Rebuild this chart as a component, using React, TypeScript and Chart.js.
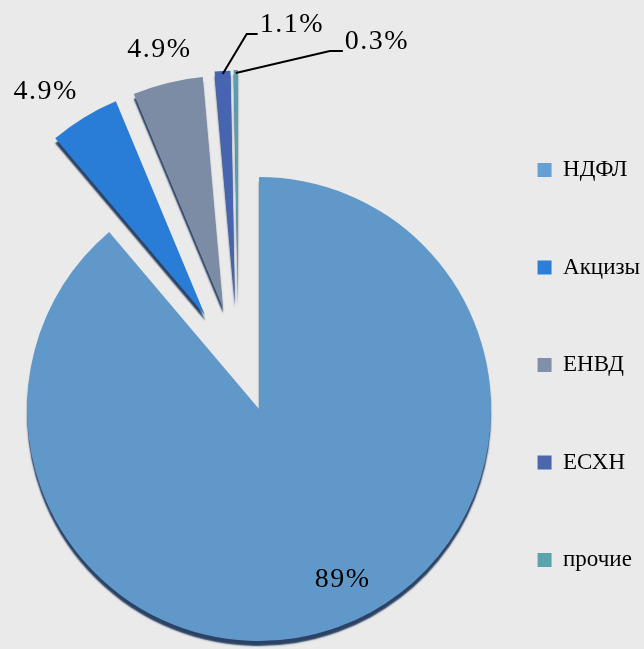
import { useEffect, useRef } from 'react';
import { Chart, registerables } from 'chart.js';

Chart.register(...registerables);

const categories = ['НДФЛ', 'Акцизы', 'ЕНВД', 'ЕСХН', 'прочие'];
const shares = [89, 4.9, 4.9, 1.1, 0.3];
const percentLabels = ['89%', '4.9%', '4.9%', '1.1%', '0.3%'];

const sliceColors = ['#6099c9', '#2a7dd7', '#7d8ca5', '#4664af', '#5aa0aa'];
const legendColors = ['#65a0d4', '#2c7fd9', '#8090ab', '#4a66ac', '#5ba3ae'];

const LABEL_FONT = '28px "Liberation Serif", "Times New Roman", serif';

const explodePlugin = {
  id: 'explode',
  afterDatasetUpdate(chart: any, args: any, opts: any) {
    const arcs = args.meta.data;
    arcs.forEach((arc: any, i: number) => {
      const d = opts.distance[i] || 0;
      if (!d) return;
      const a = (arc.startAngle + arc.endAngle) / 2 + ((opts.turn[i] || 0) * Math.PI) / 180;
      arc.x += Math.cos(a) * d;
      arc.y += Math.sin(a) * d;
    });
  },
};

const depthPlugin = {
  id: 'depth',
  beforeDatasetDraw(chart: any, _args: any, opts: any) {
    const ctx = chart.ctx;
    ctx.save();
    ctx.shadowColor = opts.color;
    ctx.shadowOffsetX = opts.dx;
    ctx.shadowOffsetY = opts.dy;
    ctx.shadowBlur = opts.blur;
  },
  afterDatasetDraw(chart: any) {
    chart.ctx.restore();
  },
};

const sliceLabelPlugin = {
  id: 'sliceLabels',
  afterDatasetsDraw(chart: any, _args: any, opts: any) {
    const ctx = chart.ctx;
    const meta = chart.getDatasetMeta(0);
    ctx.save();
    ctx.font = LABEL_FONT;
    try {
      (ctx as any).letterSpacing = '1.5px';
    } catch (e) {}
    ctx.fillStyle = '#000';
    ctx.strokeStyle = '#000';
    ctx.lineWidth = 2;
    meta.data.forEach((arc: any, i: number) => {
      const spec = opts.place[i];
      const mid = (arc.startAngle + arc.endAngle) / 2;
      const text = percentLabels[i];
      if (spec.leader) {
        const r = arc.outerRadius - spec.inset;
        const sx = arc.x + Math.cos(mid) * r;
        const sy = arc.y + Math.sin(mid) * r;
        const ex = sx + spec.elbow[0];
        const ey = sy + spec.elbow[1];
        ctx.beginPath();
        ctx.moveTo(sx, sy);
        ctx.lineTo(ex, ey);
        ctx.lineTo(ex + spec.tail, ey);
        ctx.stroke();
        ctx.textAlign = 'left';
        ctx.textBaseline = 'middle';
        ctx.fillText(text, ex + spec.tail + 2, ey - 9);
      } else {
        const a = mid + (spec.turn * Math.PI) / 180;
        const px = arc.x + Math.cos(a) * spec.dist;
        const py = arc.y + Math.sin(a) * spec.dist;
        ctx.textAlign = 'center';
        ctx.textBaseline = 'middle';
        ctx.fillText(text, px, py);
      }
    });
    ctx.restore();
  },
};

export default function App() {
  const ref = useRef<HTMLCanvasElement | null>(null);

  useEffect(() => {
    if (!ref.current) return;
    const chart = new Chart(ref.current, {
      type: 'pie',
      data: {
        labels: categories,
        datasets: [
          {
            data: shares,
            backgroundColor: sliceColors,
            borderWidth: 0,
            radius: 232,
            clip: false,
          } as any,
        ],
      },
      plugins: [explodePlugin, depthPlugin, sliceLabelPlugin],
      options: {
        responsive: false,
        animation: false,
        events: [],
        layout: { padding: { left: 55, right: 0, top: 0, bottom: 0 } },
        plugins: {
          tooltip: { enabled: false },
          legend: {
            position: 'right',
            align: 'start',
            title: {
              display: true,
              text: '',
              padding: { top: 69.6, bottom: 0 },
              font: { size: 12, lineHeight: 1.2 },
            },
            labels: {
              boxWidth: 14,
              boxHeight: 14,
              padding: 74.5,
              color: '#000',
              font: { family: '"Liberation Serif", "Times New Roman", serif', size: 23 },
              generateLabels: () =>
                categories.map((c, i) => ({
                  text: c,
                  fillStyle: legendColors[i],
                  strokeStyle: legendColors[i],
                  fontColor: '#000',
                  lineWidth: 0,
                  hidden: false,
                  index: i,
                  datasetIndex: 0,
                })),
            },
          },
          explode: {
            distance: [0, 108, 107, 109, 109],
            turn: [0, 1.5, -5.8, -9.75, -10.6],
          },
          depth: { color: 'rgba(22,48,85,0.9)', dx: 0, dy: 5, blur: 1.5 },
          sliceLabels: {
            place: [
              { dist: 190, turn: -6 },
              { dist: 275, turn: -4 },
              { dist: 266, turn: 0 },
              { leader: true, inset: 3, elbow: [24, -40], tail: 11 },
              { leader: true, inset: 3, elbow: [94, -22], tail: 13 },
            ],
          },
        } as any,
      },
    });
    return () => chart.destroy();
  }, []);

  return (
    <div
      style={{
        position: 'fixed',
        left: 0,
        top: 0,
        width: 644,
        height: 649,
        overflow: 'hidden',
        background: '#eaeaea',
      }}
    >
      <canvas ref={ref} width={650} height={818} style={{ display: 'block' }} />
    </div>
  );
}
